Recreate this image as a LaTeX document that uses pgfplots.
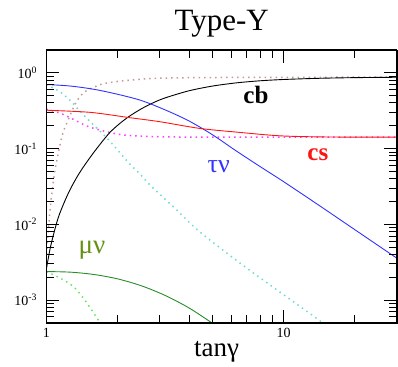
\documentclass[border=0pt]{standalone}
\usepackage{fontspec}
\setmainfont{Liberation Serif}
\usepackage{pgfplots}
\pgfplotsset{compat=1.18}
\definecolor{taucol}{RGB}{50,50,255}
\definecolor{cscol}{RGB}{255,20,20}
\definecolor{mucol}{RGB}{40,140,40}
\definecolor{magdot}{RGB}{255,60,255}
\definecolor{cyandot}{RGB}{110,220,210}
\definecolor{browndot}{RGB}{200,150,150}
\definecolor{limedot}{RGB}{100,230,100}
\definecolor{mutext}{RGB}{100,145,20}
\tikzset{dotline/.style={line width=1.5pt, dash pattern=on 1.5pt off 4pt, line cap=butt},
  tk/.style={black, line width=0.9pt, solid, line cap=butt}}
\begin{document}
\begin{tikzpicture}
\begin{axis}[
  scale only axis, width=350.5pt, height=273pt,
  xmode=log, ymode=log,
  xmin=1, xmax=30, ymin=5e-4, ymax=2,
  xtick={1,10}, xticklabels={1,10},
  minor xtick={2,3,4,5,6,7,8,9,20,30},
  ytick={1e-3,1e-2,1e-1,1},
  yticklabels={10\textsuperscript{-3},10\textsuperscript{-2},10\textsuperscript{-1},10\textsuperscript{0}},
  minor ytick={6e-4,7e-4,8e-4,9e-4,2e-3,3e-3,4e-3,5e-3,6e-3,7e-3,8e-3,9e-3,2e-2,3e-2,4e-2,5e-2,6e-2,7e-2,8e-2,9e-2,0.2,0.3,0.4,0.5,0.6,0.7,0.8,0.9,2},
  major tick length=13pt, minor tick length=8pt,
  tick style={black, line width=0.9pt, solid, line cap=butt},
  xticklabel style={font=\fontsize{14}{14}\selectfont, yshift=-2pt},
  yticklabel style={font=\fontsize{14}{14}\selectfont, xshift=-6pt},
]
% cb dotted
\addplot[browndot, dotline, smooth] coordinates {
(1,0.004)(1.03,0.013)(1.06,0.03)(1.09,0.055)(1.12,0.085)(1.15,0.125)(1.18,0.17)(1.22,0.219)(1.28,0.312)(1.34,0.42)(1.45,0.56)(1.65,0.68)(1.79,0.73)(2.08,0.78)(2.48,0.82)(2.92,0.845)(5,0.865)(30,0.875)};
% tau nu dotted
\addplot[cyandot, dotline, smooth] coordinates {
(1,0.70)(1.14,0.56)(1.26,0.43)(1.36,0.33)(1.5,0.24)(1.68,0.17)(1.85,0.125)(2.04,0.088)(2.25,0.062)(2.48,0.046)(2.73,0.033)(2.96,0.026)(3.5,0.016)(4.44,0.0079)(7.0,0.00263)(14.6,0.0005)(16,0.00038)};
% cs dotted
\addplot[magdot, dotline, smooth] coordinates {
(1,0.33)(1.15,0.29)(1.30,0.242)(1.48,0.198)(1.68,0.175)(2.04,0.153)(2.48,0.146)(3,0.143)(5,0.141)(30,0.141)};
% mu nu dotted
\addplot[limedot, dotline, smooth] coordinates {
(1,0.00237)(1.14,0.00195)(1.30,0.0015)(1.45,0.001)(1.65,0.00055)(1.75,0.00042)};
% cb (solid black)
\addplot[black, line width=0.9pt, solid, smooth] coordinates {
(1,0.0026)(1.035,0.00468)(1.072,0.0074)(1.122,0.0123)(1.189,0.0195)(1.259,0.0288)(1.349,0.0427)(1.445,0.0596)(1.585,0.0891)(1.738,0.129)(1.862,0.166)(2.042,0.215)(2.239,0.267)(2.512,0.334)(2.818,0.401)(3.162,0.465)(3.981,0.577)(5.012,0.667)(6.31,0.735)(7.943,0.783)(10,0.815)(14.13,0.845)(19.95,0.862)(30,0.872)};
% tau nu
\addplot[taucol, line width=0.9pt, solid, smooth] coordinates {
(1,0.70)(1.259,0.668)(1.585,0.605)(1.995,0.52)(2.512,0.43)(3.162,0.324)(3.981,0.232)(5.012,0.152)(6.31,0.093)(7.943,0.058)(10,0.0365)(14.13,0.0177)(19.95,0.0085)(30,0.00357)};
% cs
\addplot[cscol, line width=0.9pt, solid, smooth] coordinates {
(1,0.32)(1.53,0.30)(2.25,0.255)(3.0,0.226)(4.44,0.184)(6.55,0.163)(9.67,0.147)(15,0.142)(30,0.141)};
% mu nu
\addplot[mucol, line width=0.9pt, solid, smooth] coordinates {
(1,0.00237)(1.259,0.00233)(1.585,0.00217)(1.995,0.0019)(2.512,0.00154)(3.162,0.00115)(3.981,0.000789)(5.012,0.000493)(5.623,0.00038)};
% tick marks (axis decoration)
\pgfplotsinvokeforeach{2,3,4,5,6,7,8,9,20}{
  \draw[tk] (axis cs:#1,5e-4) -- ++(0pt,8pt);
  \draw[tk] (axis cs:#1,2) -- ++(0pt,-8pt);
}
\draw[tk] (axis cs:10,5e-4) -- ++(0pt,13pt);
\draw[tk] (axis cs:10,2) -- ++(0pt,-13pt);
\pgfplotsinvokeforeach{1e-3,1e-2,1e-1,1}{
  \draw[tk] (axis cs:1,#1) -- ++(13pt,0pt);
  \draw[tk] (axis cs:30,#1) -- ++(-13pt,0pt);
}
\pgfplotsinvokeforeach{6e-4,7e-4,8e-4,9e-4,2e-3,3e-3,4e-3,5e-3,6e-3,7e-3,8e-3,9e-3,2e-2,3e-2,4e-2,5e-2,6e-2,7e-2,8e-2,9e-2,0.2,0.3,0.4,0.5,0.6,0.7,0.8,0.9}{
  \draw[tk] (axis cs:1,#1) -- ++(8pt,0pt);
  \draw[tk] (axis cs:30,#1) -- ++(-8pt,0pt);
}
\coordinate (sw) at (rel axis cs:0,0);
\coordinate (ne) at (rel axis cs:1,1);
\coordinate (tcb) at (rel axis cs:0.598,0.835);
\coordinate (tcs) at (rel axis cs:0.775,0.615);
\coordinate (ttau) at (rel axis cs:0.492,0.571);
\coordinate (tmu) at (rel axis cs:0.130,0.267);
\coordinate (ttitle) at (rel axis cs:0.5,1.073);
\coordinate (txlab) at (rel axis cs:0.486,-0.1245);
\end{axis}
\draw[black, line width=1.2pt, solid] (sw) rectangle (ne);
\node[font=\fontsize{25}{25}\selectfont\bfseries] at (tcb) {cb};
\node[font=\fontsize{25}{25}\selectfont\bfseries, text=cscol] at (tcs) {cs};
\node[font=\fontsize{26}{26}\selectfont, text=taucol] at (ttau) {τν};
\node[font=\fontsize{27}{27}\selectfont, text=mutext] at (tmu) {μν};
\node[font=\fontsize{31}{31}\selectfont, anchor=base] at (ttitle) {Type-Y};
\node[font=\fontsize{27}{27}\selectfont, anchor=base] at (txlab) {tanγ};
\pgfresetboundingbox
\path ([shift={(-46.5pt,-44pt)}]sw) rectangle ([shift={(1.3pt,50pt)}]ne);
\end{tikzpicture}
\end{document}
